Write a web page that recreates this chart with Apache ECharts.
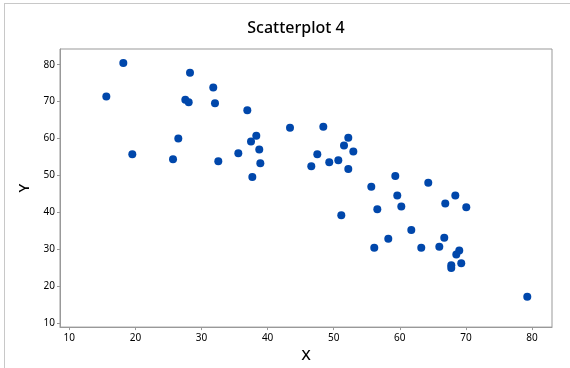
<!DOCTYPE html>
<html>
<head>
<meta charset="utf-8">
<script src="https://cdn.jsdelivr.net/npm/echarts@6/dist/echarts.min.js"></script>
<style>
html,body{margin:0;padding:0;background:#fff;}
#c{width:570px;height:368px;}
</style>
</head>
<body>
<div id="c"></div>
<script>
const titleText = 'Scatterplot 4';
const xName = 'X';
const yName = 'Y';
const tickValues = [10, 20, 30, 40, 50, 60, 70, 80];
const xValues = [15.60,18.17,19.53,25.69,26.49,27.55,28.06,28.26,31.78,32.04,32.54,35.57,36.93,37.49,38.29,38.74,38.90,37.69,43.39,46.61,47.52,48.43,49.33,50.70,51.56,52.21,52.97,52.21,51.15,55.69,59.32,64.31,59.62,68.40,66.88,56.60,60.23,70.06,61.74,58.26,66.73,56.14,63.25,65.98,69.00,68.55,69.30,67.79,67.79,79.29];
const yValues = [71.41,80.45,55.72,54.40,59.98,70.51,69.82,77.79,73.80,69.55,53.86,55.99,67.69,59.18,60.78,57.05,53.33,49.61,62.90,52.53,55.72,63.17,53.60,54.13,58.12,60.24,56.52,51.74,39.24,46.95,49.88,48.01,44.56,44.56,42.43,40.83,41.63,41.37,35.25,32.86,33.12,30.46,30.46,30.73,29.67,28.60,26.21,25.68,24.96,17.17];

const points = xValues.map((x, i) => [x, yValues[i]]);
const chart = echarts.init(document.getElementById('c'), null, {renderer: 'canvas'});
const labelFont = {fontFamily: 'Noto Sans', fontSize: 10, color: '#000'};
chart.setOption({
  animation: false,
  backgroundColor: '#fff',
  title: {
    text: titleText,
    left: 291,
    top: 15,
    textAlign: 'center',
    textStyle: {fontFamily: 'Noto Sans', fontSize: 16, fontWeight: 500, color: '#000'}
  },
  grid: {left: 60, top: 49, right: 18, bottom: 36, show: true, borderColor: '#999', borderWidth: 1, containLabel: false},
  xAxis: {
    type: 'value', min: 8.59, max: 83.03,
    name: xName, nameLocation: 'middle', nameGap: 20,
    nameTextStyle: {fontFamily: 'Noto Sans', fontSize: 15, fontWeight: 500, color: '#000'},
    axisLine: {show: true, lineStyle: {color: '#999'}},
    axisTick: {show: true, length: 3, lineStyle: {color: '#999'}, customValues: tickValues},
    axisLabel: Object.assign({margin: 6, customValues: tickValues}, labelFont),
    splitLine: {show: false}
  },
  yAxis: {
    type: 'value', min: 8.94, max: 84.25,
    name: yName, nameLocation: 'middle', nameGap: 26, nameRotate: 90,
    nameTextStyle: {fontFamily: 'Noto Sans', fontSize: 15, fontWeight: 500, color: '#000'},
    axisLine: {show: true, lineStyle: {color: '#999'}},
    axisTick: {show: true, length: 3, lineStyle: {color: '#999'}, customValues: tickValues},
    axisLabel: Object.assign({margin: 5, customValues: tickValues}, labelFont),
    splitLine: {show: false}
  },
  graphic: [
    {type: 'line', shape: {x1: 4, y1: 3.5, x2: 570, y2: 3.5}, style: {stroke: '#c8c8c8', lineWidth: 1}, silent: true},
    {type: 'line', shape: {x1: 4.5, y1: 3, x2: 4.5, y2: 368}, style: {stroke: '#c8c8c8', lineWidth: 1}, silent: true}
  ],
  series: [{
    type: 'scatter',
    data: points,
    symbol: 'circle',
    symbolSize: 8,
    itemStyle: {color: '#0047AB', opacity: 1}
  }]
});
</script>
</body>
</html>
